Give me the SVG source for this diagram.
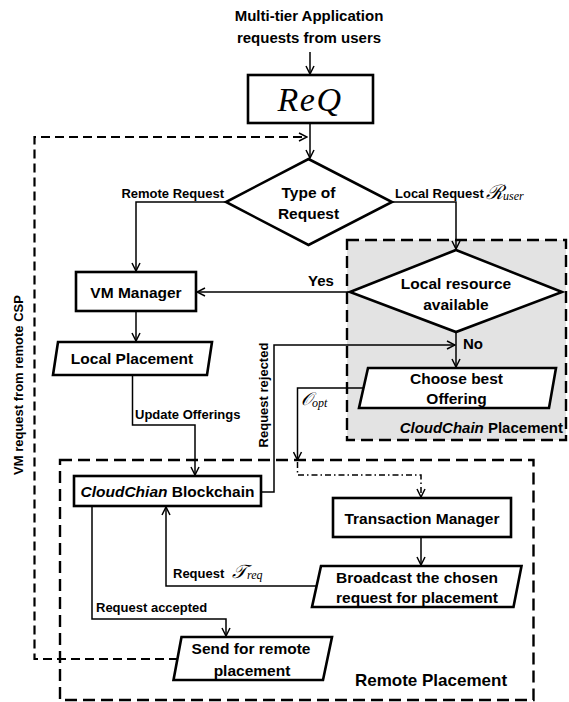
<svg xmlns="http://www.w3.org/2000/svg" width="569" height="702" viewBox="0 0 569 702">
<style>
text{font-family:"Liberation Sans",Arial,sans-serif;font-weight:bold;fill:#000;dominant-baseline:central}
.n{font-size:15.5px;text-anchor:middle}
.l{font-size:13px}
.m{font-family:"Liberation Serif","DejaVu Serif",serif;font-weight:normal;font-style:italic}
.box{fill:#fff;stroke:#000;stroke-width:2.6}
.c{fill:none;stroke:#000;stroke-width:1.5}
.dash{fill:none;stroke:#000;stroke-width:2.2;stroke-dasharray:9 5}
</style>
<defs>
<marker id="ah" viewBox="0 0 10 10" refX="9" refY="5" markerWidth="10" markerHeight="10" markerUnits="userSpaceOnUse" orient="auto">
<path d="M1,1 L9,5 L1,9" fill="none" stroke="#000" stroke-width="1.5"/>
</marker>
</defs>
<g id="cloudchain-placement">
<rect x="347" y="240" width="219" height="200" fill="#e3e3e3" stroke="#000" stroke-width="2.4" stroke-dasharray="12 6"/>
<text class="l" x="563" y="427" text-anchor="end" style="font-size:15px"><tspan font-style="italic">CloudChain</tspan> Placement</text>
</g>
<g id="remote-placement">
<rect x="60" y="460" width="473.5" height="240" fill="none" stroke="#000" stroke-width="2.4" stroke-dasharray="12 6"/>
<text x="431" y="680" text-anchor="middle" style="font-size:17px">Remote Placement</text>
</g>
<g id="connectors">
<path class="c" d="M310,52 L310,74" marker-end="url(#ah)"/>
<path class="c" d="M310,123 L310,158" marker-end="url(#ah)"/>
<path class="dash" d="M178,659 L34.5,659 L34.5,137 L307,137" marker-end="url(#ah)"/>
<path class="c" d="M226,202 L136,202 L136,271" marker-end="url(#ah)"/>
<path class="c" d="M392,202 L456,202 L456,249" marker-end="url(#ah)"/>
<path class="c" d="M350,292 L197,292" marker-end="url(#ah)"/>
<path class="c" d="M136,311 L136,341" marker-end="url(#ah)"/>
<path class="c" d="M132.5,375 L132.5,425 L195,425 L195,475" marker-end="url(#ah)"/>
<path class="c" d="M456,332 L456,367" marker-end="url(#ah)"/>
<path class="c" d="M261,492 L274,492 L274,345 L455,345" marker-end="url(#ah)"/>
<path class="c" d="M363,388 L297.5,388 L297.5,460" marker-end="url(#ah)"/>
<path class="c" d="M297.5,462 L297.5,475 L421,475 L421,497" stroke-dasharray="6 3 1.5 3" marker-end="url(#ah)"/>
<path class="c" d="M421,537 L421,565" marker-end="url(#ah)"/>
<path class="c" d="M316,586 L166,586 L166,507" marker-end="url(#ah)"/>
<path class="c" d="M92,506 L92,619 L226,619 L226,636" marker-end="url(#ah)"/>
<text class="l" x="224" y="193" text-anchor="end">Remote Request</text>
<text class="l" x="395" y="193">Local Request</text>
<text class="m" x="486" y="192" style="font-size:20px">ℛ<tspan style="font-size:12px" dy="4">user</tspan></text>
<text x="321" y="280" text-anchor="middle" style="font-size:15px">Yes</text>
<text x="463" y="343" style="font-size:15px">No</text>
<text class="l" x="135" y="414">Update Offerings</text>
<text class="l" x="263" y="395" text-anchor="middle" transform="rotate(-90 263 395)">Request rejected</text>
<text class="m" x="301" y="399" style="font-size:18px">𝒪<tspan style="font-size:12px" dy="4">opt</tspan></text>
<text class="l" x="18" y="385" text-anchor="middle" transform="rotate(-90 18 385)">VM request from remote CSP</text>
<text class="l" x="173" y="573">Request</text>
<text class="m" x="232" y="571" style="font-size:19px">𝒯<tspan style="font-size:12px" dy="4">req</tspan></text>
<text class="l" x="96" y="607">Request accepted</text>
</g>
<g id="title">
<text x="309" y="15" text-anchor="middle" style="font-size:15px">Multi-tier Application</text>
<text x="309" y="37" text-anchor="middle" style="font-size:15px">requests from users</text>
</g>
<g id="req">
<rect class="box" x="248" y="75" width="125" height="48" stroke-width="3"/>
<text class="m" x="310" y="99" text-anchor="middle" style="font-size:34px;letter-spacing:1.5px">ReQ</text>
</g>
<g id="type-of-request">
<polygon class="box" points="308.5,159 392,202 308.5,245 226,202"/>
<text class="n" x="308.5" y="192">Type of</text>
<text class="n" x="308.5" y="213">Request</text>
</g>
<g id="vm-manager">
<rect class="box" x="76" y="272" width="120" height="39"/>
<text class="n" x="136" y="292">VM Manager</text>
</g>
<g id="local-placement">
<polygon class="box" points="58,342 212,342 207,375 53,375"/>
<text class="n" x="132" y="358">Local Placement</text>
</g>
<g id="local-resource">
<polygon class="box" points="456,250 562,292 456,332 350,292"/>
<text class="n" x="456" y="283">Local resource</text>
<text class="n" x="456" y="304">available</text>
</g>
<g id="choose-best">
<polygon class="box" points="368,368 556,368 549,408 359,408"/>
<text class="n" x="456.5" y="378">Choose best</text>
<text class="n" x="456.5" y="398">Offering</text>
</g>
<g id="blockchain">
<rect class="box" x="74" y="476" width="187" height="30"/>
<text class="n" x="167.5" y="491"><tspan font-style="italic">CloudChian</tspan> Blockchain</text>
</g>
<g id="transaction-manager">
<rect class="box" x="333" y="498" width="178" height="39"/>
<text class="n" x="422" y="518">Transaction Manager</text>
</g>
<g id="broadcast">
<polygon class="box" points="321,566 521.5,566 513.5,607 312,607"/>
<text class="n" x="417" y="577">Broadcast the chosen</text>
<text class="n" x="417" y="597">request for placement</text>
</g>
<g id="send-remote">
<polygon class="box" points="181.5,637 332,637 323,680 173.5,680"/>
<text class="n" x="251" y="648">Send for remote</text>
<text class="n" x="252" y="670">placement</text>
</g>
</svg>
